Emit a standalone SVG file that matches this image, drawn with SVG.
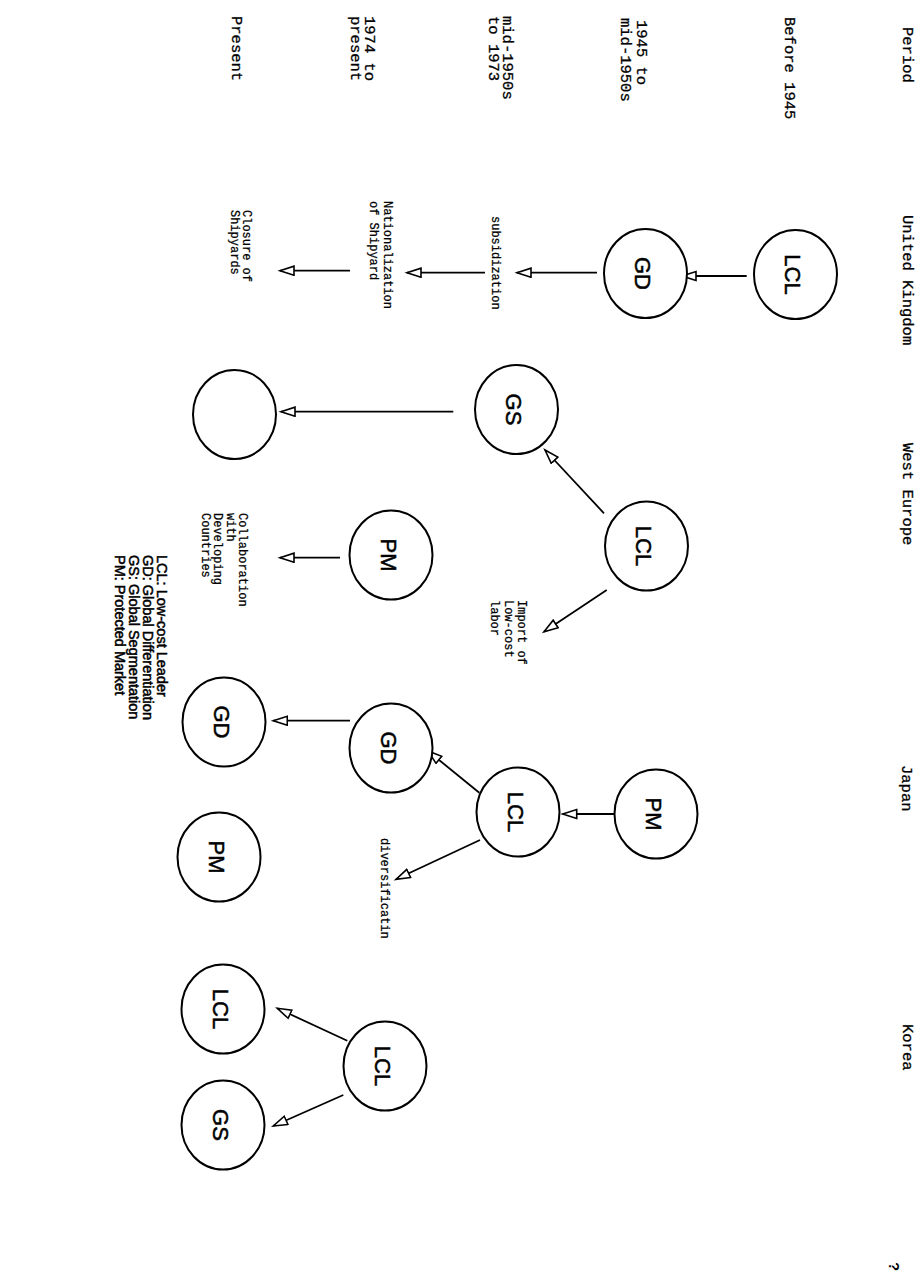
<svg xmlns="http://www.w3.org/2000/svg" width="921" height="1273" viewBox="0 0 921 1273">
<style>
.hdr{font-family:"Liberation Mono","DejaVu Sans Mono",monospace;font-size:15.5px;fill:#000;stroke:#000;stroke-width:0.3}
.lbl{font-family:"Liberation Mono","DejaVu Sans Mono",monospace;font-size:12px;fill:#000;stroke:#000;stroke-width:0.25}
.node ellipse{fill:#fff;stroke:#000;stroke-width:2}
.node text{font-family:"Liberation Sans",Arial,sans-serif;font-size:22px;fill:#000;stroke:#000;stroke-width:0.5;text-anchor:middle}
.leg{font-family:"Liberation Sans",Arial,sans-serif;font-size:14.5px;fill:#000;stroke:#000;stroke-width:0.5}
.conn path{fill:none;stroke:#000;stroke-width:1.8;marker-end:url(#hollow)}
</style>
<defs>
<marker id="hollow" markerUnits="userSpaceOnUse" markerWidth="18" markerHeight="12" refX="15" refY="5.5" orient="auto">
<path d="M1,1 L15,5.5 L1,10 Z" fill="#fff" stroke="#000" stroke-width="1.6"/>
</marker>
</defs>
<rect width="921" height="1273" fill="#fff"/>

<g id="headers">
<text class="hdr" transform="translate(903,27) rotate(90)">Period</text>
<text class="hdr" transform="translate(903,215) rotate(90)">United Kingdom</text>
<text class="hdr" transform="translate(903,443) rotate(90)">West Europe</text>
<text class="hdr" transform="translate(902,765) rotate(90)">Japan</text>
<text class="hdr" transform="translate(903,1024) rotate(90)">Korea</text>
</g>

<g id="periods">
<text class="hdr" transform="translate(785,17) rotate(90)">Before 1945</text>
<text class="hdr" transform="translate(637,20) rotate(90)">1945 to</text>
<text class="hdr" transform="translate(621,18) rotate(90)">mid-1950s</text>
<text class="hdr" transform="translate(503,16) rotate(90)">mid-1950s</text>
<text class="hdr" transform="translate(489,16) rotate(90)">to 1973</text>
<text class="hdr" transform="translate(365,16) rotate(90)">1974 to</text>
<text class="hdr" transform="translate(351,16) rotate(90)">present</text>
<text class="hdr" transform="translate(232,16) rotate(90)">Present</text>
</g>

<g id="connectors" class="conn">
<path d="M746.7,276 L682,276"/>
<path d="M597,272.7 L517,272.7"/>
<path d="M485,272.7 L407,272.7"/>
<path d="M350,270.7 L280,270.7"/>
<path d="M604,513.3 L545,450"/>
<path d="M606.7,590 L544,631.7"/>
<path d="M453.3,411.7 L281,411.7"/>
<path d="M340,557.7 L280,557.7"/>
<path d="M618,814 L562.7,814"/>
<path d="M479.3,792.7 L428,751"/>
<path d="M480,840 L396,879.3"/>
<path d="M350,720.7 L273.3,720.7"/>
<path d="M347.3,1040.7 L277.3,1008.3"/>
<path d="M343.3,1095 L273.3,1126"/>
</g>

<g id="labels">
<text class="lbl" transform="translate(492,216) rotate(90)">subsidization</text>
<text class="lbl" transform="translate(384,201) rotate(90)">Nationalization</text>
<text class="lbl" transform="translate(370,201) rotate(90)">of Shipyard</text>
<text class="lbl" transform="translate(243,210) rotate(90)">Closure of</text>
<text class="lbl" transform="translate(231,210) rotate(90)">Shipyards</text>
<text class="lbl" transform="translate(518,600) rotate(90)">Import of</text>
<text class="lbl" transform="translate(505,600) rotate(90)">Low-cost</text>
<text class="lbl" transform="translate(491,600) rotate(90)">labor</text>
<text class="lbl" transform="translate(239,513) rotate(90)">Collaboration</text>
<text class="lbl" transform="translate(227,513) rotate(90)">with</text>
<text class="lbl" transform="translate(214,513) rotate(90)">Developing</text>
<text class="lbl" transform="translate(202,513) rotate(90)">Countries</text>
<text class="lbl" transform="translate(381,838) rotate(90)">diversificatin</text>
</g>

<g id="uk_lcl" class="node"><ellipse cx="795.5" cy="274.5" rx="41.5" ry="44.5"/><text transform="translate(785,274.5) rotate(90)">LCL</text></g>
<g id="uk_gd" class="node"><ellipse cx="645.5" cy="273.5" rx="41.5" ry="44.5"/><text transform="translate(635,273.5) rotate(90)">GD</text></g>
<g id="we_lcl" class="node"><ellipse cx="646.5" cy="546" rx="41.5" ry="44.5"/><text transform="translate(636,546) rotate(90)">LCL</text></g>
<g id="we_gs" class="node"><ellipse cx="516.5" cy="409.5" rx="41.5" ry="44.5"/><text transform="translate(506,409.5) rotate(90)">GS</text></g>
<g id="we_empty" class="node"><ellipse cx="234.5" cy="414.5" rx="41.5" ry="44.5"/></g>
<g id="we_pm" class="node"><ellipse cx="391" cy="555" rx="41.5" ry="44.5"/><text transform="translate(380.5,555) rotate(90)">PM</text></g>
<g id="jp_pm" class="node"><ellipse cx="656" cy="814" rx="41.5" ry="44.5"/><text transform="translate(645.5,814) rotate(90)">PM</text></g>
<g id="jp_lcl" class="node"><ellipse cx="518" cy="812" rx="41.5" ry="44.5"/><text transform="translate(507.5,812) rotate(90)">LCL</text></g>
<g id="jp_gd" class="node"><ellipse cx="391" cy="748" rx="41.5" ry="44.5"/><text transform="translate(380.5,748) rotate(90)">GD</text></g>
<g id="jp_gd_present" class="node"><ellipse cx="224" cy="722" rx="41.5" ry="44.5"/><text transform="translate(213.5,722) rotate(90)">GD</text></g>
<g id="jp_pm_present" class="node"><ellipse cx="219" cy="857" rx="41.5" ry="44.5"/><text transform="translate(208.5,857) rotate(90)">PM</text></g>
<g id="kr_lcl" class="node"><ellipse cx="385" cy="1066" rx="41.5" ry="44.5"/><text transform="translate(374.5,1066) rotate(90)">LCL</text></g>
<g id="kr_lcl_present" class="node"><ellipse cx="223" cy="1009" rx="41.5" ry="44.5"/><text transform="translate(212.5,1009) rotate(90)">LCL</text></g>
<g id="kr_gs_present" class="node"><ellipse cx="223" cy="1125" rx="41.5" ry="44.5"/><text transform="translate(212.5,1125) rotate(90)">GS</text></g>

<g id="legend">
<text class="leg" transform="translate(157,555) rotate(90)">LCL: Low-cost Leader</text>
<text class="leg" transform="translate(143,555) rotate(90)">GD: Global Differentiation</text>
<text class="leg" transform="translate(129,555) rotate(90)">GS: Global Segmentation</text>
<text class="leg" transform="translate(115,555) rotate(90)">PM: Protected Market</text>
</g>

<g id="mark">
<text transform="translate(889,1262) rotate(90)" style="font-family:'Liberation Sans',Arial,sans-serif;font-size:15px;font-weight:bold;fill:#000">?</text>
</g>
</svg>
